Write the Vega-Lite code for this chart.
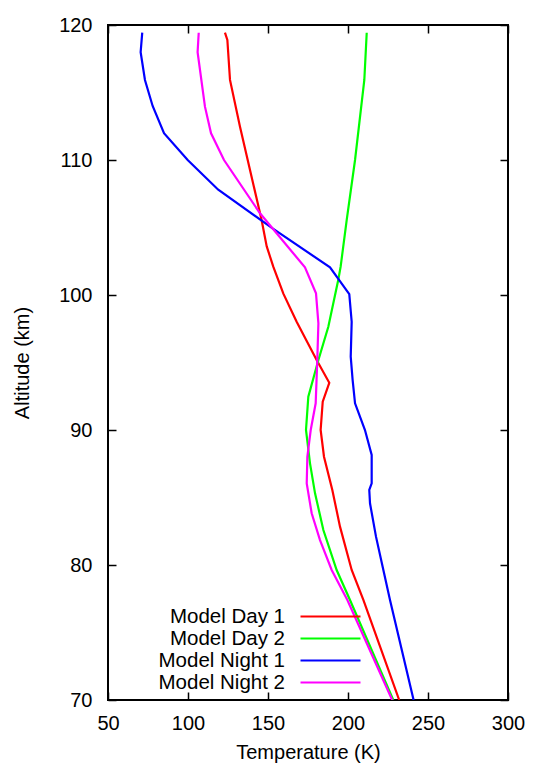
{
  "$schema": "https://vega.github.io/schema/vega-lite/v6.json",
  "width": 400,
  "height": 675,
  "autosize": "none",
  "padding": {"left": 108, "top": 25, "right": 37, "bottom": 63},
  "background": "white",
  "config": {
    "view": {"stroke": "black", "strokeWidth": 2},
    "font": "Liberation Sans",
    "axis": {"domain": false, "grid": false, "tickColor": "black", "tickWidth": 1.5, "labelColor": "black", "titleColor": "black", "labelFont": "Liberation Sans", "titleFont": "Liberation Sans", "labelFontSize": 20, "titleFontSize": 20, "titleFontWeight": "normal"},
    "legend": {"labelFont": "Liberation Sans", "labelFontSize": 20.5, "labelColor": "black"}
  },
  "data": {"values": [
    {"series": "Model Day 1", "alt": 70, "T": 232},
    {"series": "Model Day 1", "alt": 77.41, "T": 209.6},
    {"series": "Model Day 1", "alt": 79.63, "T": 202.3},
    {"series": "Model Day 1", "alt": 82.84, "T": 195.0},
    {"series": "Model Day 1", "alt": 85.56, "T": 190.2},
    {"series": "Model Day 1", "alt": 88.02, "T": 185.0},
    {"series": "Model Day 1", "alt": 90.0, "T": 182.9},
    {"series": "Model Day 1", "alt": 92.1, "T": 184.2},
    {"series": "Model Day 1", "alt": 93.5, "T": 188.3},
    {"series": "Model Day 1", "alt": 95.19, "T": 180.4},
    {"series": "Model Day 1", "alt": 98.02, "T": 167.9},
    {"series": "Model Day 1", "alt": 100.1, "T": 159.6},
    {"series": "Model Day 1", "alt": 102.1, "T": 153.3},
    {"series": "Model Day 1", "alt": 103.6, "T": 149.2},
    {"series": "Model Day 1", "alt": 105.56, "T": 146.0},
    {"series": "Model Day 1", "alt": 112.47, "T": 132.5},
    {"series": "Model Day 1", "alt": 115.93, "T": 126.25},
    {"series": "Model Day 1", "alt": 118.9, "T": 124.6},
    {"series": "Model Day 1", "alt": 119.43, "T": 123.1},

    {"series": "Model Day 2", "alt": 70, "T": 228.3},
    {"series": "Model Day 2", "alt": 77.41, "T": 201.25},
    {"series": "Model Day 2", "alt": 79.63, "T": 192.9},
    {"series": "Model Day 2", "alt": 82.59, "T": 184.6},
    {"series": "Model Day 2", "alt": 85.31, "T": 179.4},
    {"series": "Model Day 2", "alt": 87.53, "T": 176.25},
    {"series": "Model Day 2", "alt": 90.0, "T": 173.75},
    {"series": "Model Day 2", "alt": 92.47, "T": 175.2},
    {"series": "Model Day 2", "alt": 95.19, "T": 181.5},
    {"series": "Model Day 2", "alt": 97.65, "T": 187.7},
    {"series": "Model Day 2", "alt": 101.11, "T": 193.9},
    {"series": "Model Day 2", "alt": 102.1, "T": 195.4},
    {"series": "Model Day 2", "alt": 105.56, "T": 199.2},
    {"series": "Model Day 2", "alt": 110, "T": 204.4},
    {"series": "Model Day 2", "alt": 115.93, "T": 210.2},
    {"series": "Model Day 2", "alt": 119.43, "T": 211.7},

    {"series": "Model Night 1", "alt": 70, "T": 241},
    {"series": "Model Night 1", "alt": 77.41, "T": 226.25},
    {"series": "Model Night 1", "alt": 79.63, "T": 222.1},
    {"series": "Model Night 1", "alt": 82.1, "T": 217.5},
    {"series": "Model Night 1", "alt": 84.57, "T": 213.75},
    {"series": "Model Night 1", "alt": 85.56, "T": 213.3},
    {"series": "Model Night 1", "alt": 86.05, "T": 214.8},
    {"series": "Model Night 1", "alt": 88.15, "T": 214.8},
    {"series": "Model Night 1", "alt": 90.0, "T": 210.6},
    {"series": "Model Night 1", "alt": 91.98, "T": 204.4},
    {"series": "Model Night 1", "alt": 93.7, "T": 202.9},
    {"series": "Model Night 1", "alt": 95.43, "T": 201.7},
    {"series": "Model Night 1", "alt": 98.02, "T": 202.3},
    {"series": "Model Night 1", "alt": 100.07, "T": 200.8},
    {"series": "Model Night 1", "alt": 102.05, "T": 188.75},
    {"series": "Model Night 1", "alt": 104.9, "T": 153.3},
    {"series": "Model Night 1", "alt": 107.8, "T": 118.9},
    {"series": "Model Night 1", "alt": 110, "T": 99.8},
    {"series": "Model Night 1", "alt": 111.98, "T": 85},
    {"series": "Model Night 1", "alt": 114.0, "T": 77.9},
    {"series": "Model Night 1", "alt": 115.93, "T": 73.1},
    {"series": "Model Night 1", "alt": 117.98, "T": 70.4},
    {"series": "Model Night 1", "alt": 119.43, "T": 71.4},

    {"series": "Model Night 2", "alt": 70, "T": 227.6},
    {"series": "Model Night 2", "alt": 77.41, "T": 199.6},
    {"series": "Model Night 2", "alt": 79.63, "T": 189.8},
    {"series": "Model Night 2", "alt": 81.85, "T": 182.5},
    {"series": "Model Night 2", "alt": 83.83, "T": 177.3},
    {"series": "Model Night 2", "alt": 86.05, "T": 174.2},
    {"series": "Model Night 2", "alt": 88.02, "T": 174.6},
    {"series": "Model Night 2", "alt": 90.0, "T": 176.7},
    {"series": "Model Night 2", "alt": 91.98, "T": 179.8},
    {"series": "Model Night 2", "alt": 95.19, "T": 180.8},
    {"series": "Model Night 2", "alt": 97.9, "T": 181.5},
    {"series": "Model Night 2", "alt": 100.12, "T": 180.0},
    {"series": "Model Night 2", "alt": 102.05, "T": 173.1},
    {"series": "Model Night 2", "alt": 106.05, "T": 145.0},
    {"series": "Model Night 2", "alt": 110, "T": 122.5},
    {"series": "Model Night 2", "alt": 111.98, "T": 114.4},
    {"series": "Model Night 2", "alt": 113.95, "T": 110.6},
    {"series": "Model Night 2", "alt": 117.98, "T": 106.0},
    {"series": "Model Night 2", "alt": 119.43, "T": 106.7}
  ]},
  "layer": [
    {
      "mark": {"type": "line", "strokeWidth": 2.2, "clip": true},
      "encoding": {
        "x": {"field": "T", "type": "quantitative", "scale": {"domain": [50, 300], "nice": false, "zero": false},
              "axis": {"orient": "bottom", "title": "Temperature (K)", "values": [50, 100, 150, 200, 250, 300], "tickSize": -8, "labelPadding": 21.5, "labelBaseline": "top", "titleBaseline": "alphabetic", "titleY": 58, "labelFlush": false, "labelOverlap": false}},
        "y": {"field": "alt", "type": "quantitative", "scale": {"domain": [70, 120], "nice": false, "zero": false},
              "axis": {"orient": "left", "title": "Altitude (km)", "values": [70, 80, 90, 100, 110, 120], "tickSize": -8, "labelPadding": 24, "labelBaseline": "middle", "titleBaseline": "alphabetic", "titleX": -80, "labelFlush": false, "labelOverlap": false}},
        "color": {"field": "series", "type": "nominal",
                  "scale": {"domain": ["Model Day 1", "Model Day 2", "Model Night 1", "Model Night 2"], "range": ["#ff0000", "#00ff00", "#0000ff", "#ff00ff"]},
                  "legend": {"title": null, "orient": "none", "legendX": 211, "legendY": 580, "symbolType": "M-3,0H3", "symbolSize": 400, "symbolStrokeWidth": 2.2, "labelAlign": "right", "labelOffset": -57, "rowPadding": -2.5, "padding": 0, "labelLimit": 0}},
        "order": {"field": "alt", "type": "quantitative"}
      }
    },
    {
      "mark": {"type": "line", "strokeOpacity": 0},
      "encoding": {
        "x": {"field": "T", "type": "quantitative", "axis": {"orient": "top", "title": null, "labels": false, "values": [50, 100, 150, 200, 250, 300], "tickSize": -8}},
        "y": {"field": "alt", "type": "quantitative", "axis": {"orient": "right", "title": null, "labels": false, "values": [70, 80, 90, 100, 110, 120], "tickSize": -8}},
        "detail": {"field": "series"},
        "order": {"field": "alt", "type": "quantitative"}
      }
    }
  ],
  "resolve": {"axis": {"x": "independent", "y": "independent"}}
}
